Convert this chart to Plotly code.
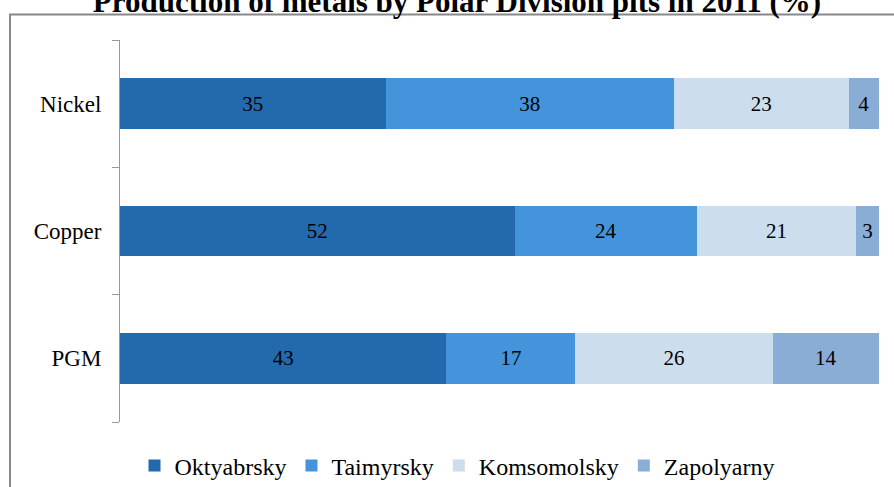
import plotly.graph_objects as go

categories = ["Nickel", "Copper", "PGM"]
series_names = ["Oktyabrsky", "Taimyrsky", "Komsomolsky", "Zapolyarny"]
oktyabrsky = [35, 52, 43]
taimyrsky = [38, 24, 17]
komsomolsky = [23, 21, 26]
zapolyarny = [4, 3, 14]
series_values = [oktyabrsky, taimyrsky, komsomolsky, zapolyarny]
colors = ["#2369AE", "#4394DB", "#CCDDED", "#8AADD6"]

FONT = "Liberation Serif"

fig = go.Figure()
for name, vals, col in zip(series_names, series_values, colors):
    fig.add_trace(go.Bar(
        y=categories, x=vals, name=name, orientation="h",
        marker=dict(color=col, line=dict(width=0)),
        text=[str(v) for v in vals], textposition="inside",
        insidetextanchor="middle", textangle=0, constraintext="none",
        textfont=dict(family=FONT, size=21, color="black"),
        hoverinfo="skip",
    ))

W, H = 894, 487
ml, mr, mt, mb = 120, 15, 40, 65
pw, ph = W - ml - mr, H - mt - mb

fig.update_layout(
    width=W, height=H, autosize=False,
    barmode="stack", bargap=0.6,
    margin=dict(l=ml, r=mr, t=mt, b=mb, pad=0, autoexpand=False),
    paper_bgcolor="white", plot_bgcolor="white",
    font=dict(family=FONT, color="black"),
    title=dict(
        text="<b>Production of metals by Polar Division pits in 2011 (%)</b>",
        font=dict(family=FONT, size=31, color="black"),
        xref="container", yref="container", x=457 / W, y=1 - 1 / H,
        xanchor="center", yanchor="middle",
    ),
    xaxis=dict(range=[0, 100], visible=False, fixedrange=True),
    yaxis=dict(
        type="category", categoryorder="array", categoryarray=categories[::-1],
        tickson="boundaries", ticks="outside", ticklen=7, tickcolor="#999999",
        showline=True, linecolor="#999999", linewidth=1, showgrid=False,
        tickfont=dict(family=FONT, size=23, color="black"),
        ticklabelstandoff=13, automargin=False,
    ),
    legend=dict(
        orientation="h", xref="container", x=457 / W, xanchor="center",
        yref="container", y=(H - 466) / H, yanchor="middle",
        font=dict(family=FONT, size=24, color="black"),
        traceorder="normal", itemclick=False, itemdoubleclick=False,
    ),
    showlegend=True,
    shapes=[dict(
        type="rect", xref="paper", yref="paper",
        x0=(10 - ml) / pw, x1=1.2, y0=-0.5, y1=(ph - (14.5 - mt)) / ph,
        line=dict(color="#888888", width=2), fillcolor="rgba(0,0,0,0)", layer="below",
    )],
)

fig.write_html(
    "out.html",
    config={"displayModeBar": False},
    post_script="document.body.style.margin='0';document.body.style.overflow='hidden';",
)
